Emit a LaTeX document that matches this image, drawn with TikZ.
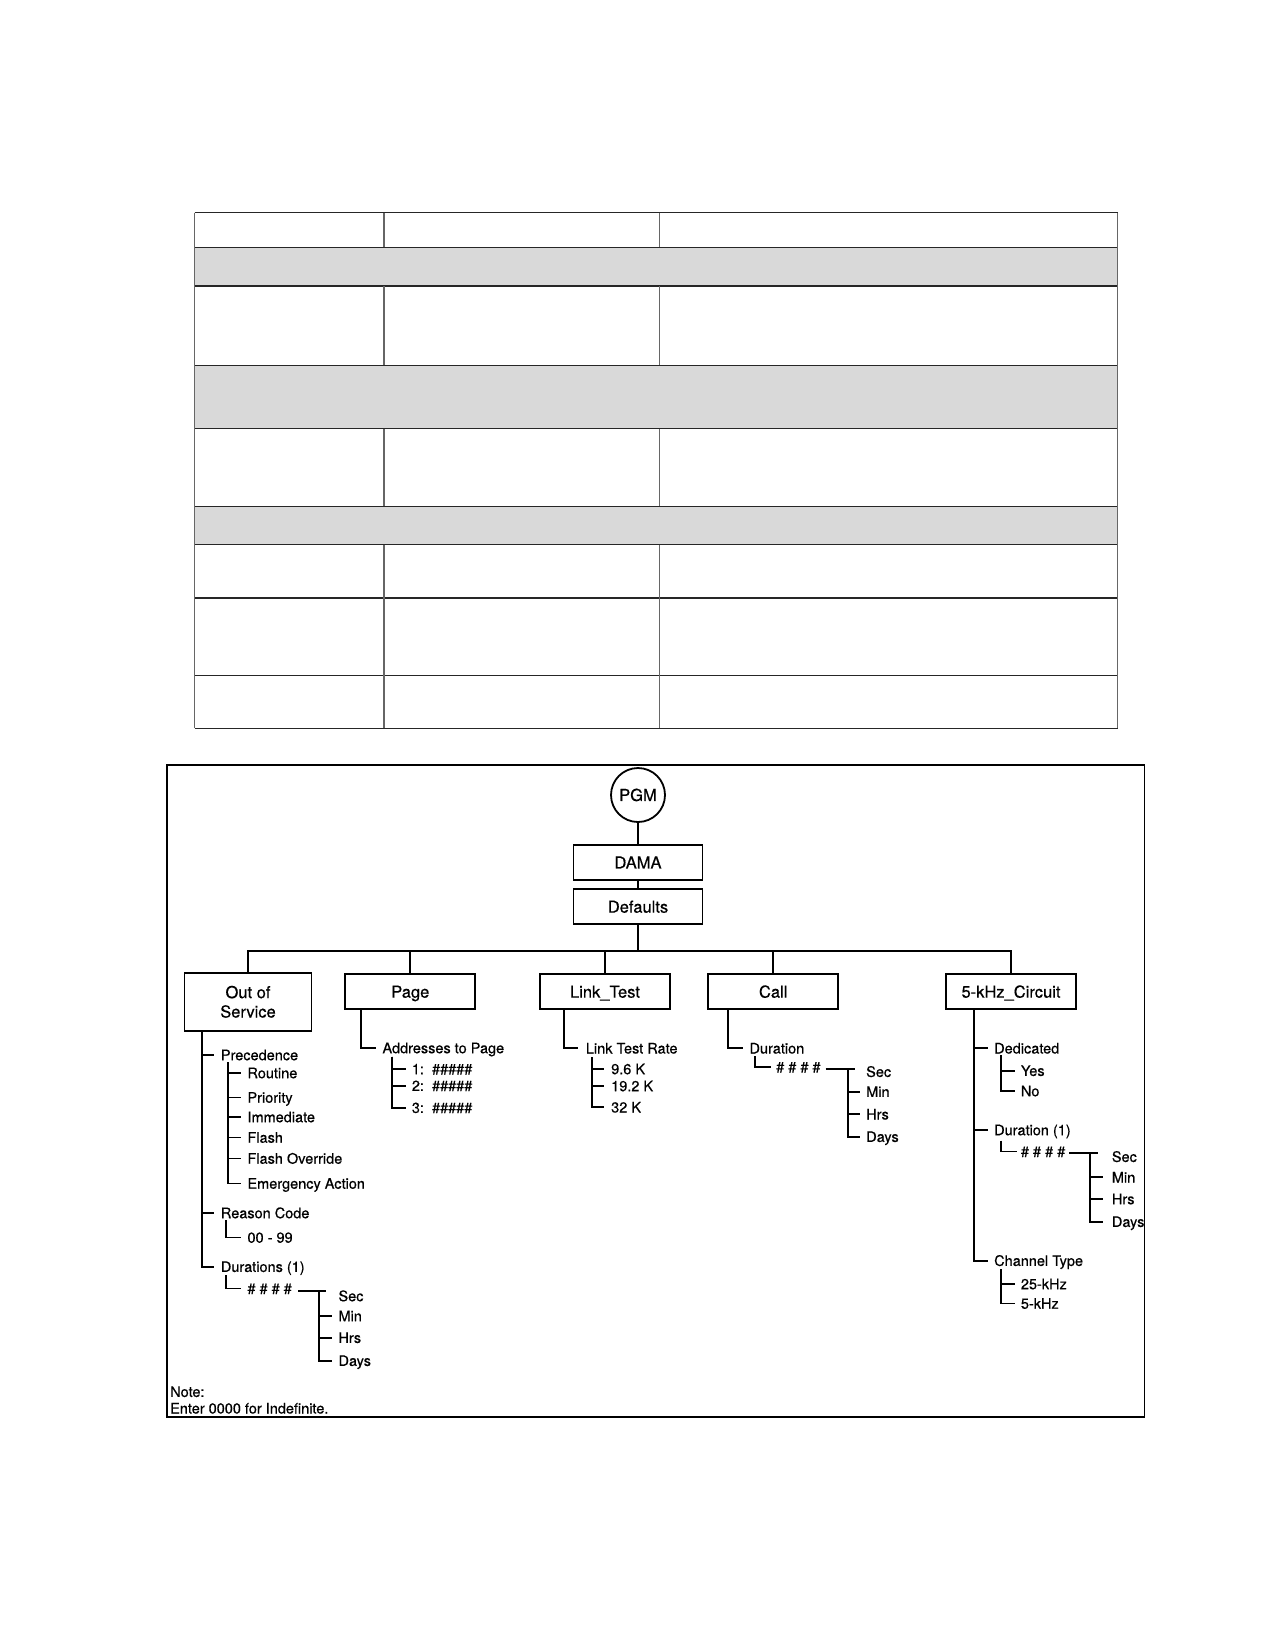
\documentclass[tikz,border=0pt]{standalone}
\usepackage{fontspec}
\setmainfont{TeX Gyre Heros}[FakeBold=0.5]
\definecolor{tgrey}{HTML}{D9D9D9}
\begin{document}
\begin{tikzpicture}[x=1pt,y=-1pt,
  ln/.style={line width=1.8pt},
  tline/.style={line width=1.3pt, black!85},
  vline/.style={line width=1.3pt, black!60},
  boxbase/.style={draw, line width=1.8pt, minimum width=129pt, minimum height=35pt, inner sep=0pt, font=\fontsize{16.5}{19.4}\selectfont},
  box/.style={boxbase, text height=11.9pt, text depth=0pt},
  lbl/.style={anchor=west, inner sep=0pt, text height=10.4pt, text depth=0pt, font=\fontsize{14.5}{17}\selectfont},
  tk/.style={xshift=-6.3pt}]
\useasboundingbox[fill=white] (0,0) rectangle (1275,1650);

% ---------------- table ----------------
\fill[tgrey] (194.7,247.3) rectangle (1117.5,286);
\fill[tgrey] (194.7,365.3) rectangle (1117.5,428.8);
\fill[tgrey] (194.7,506.2) rectangle (1117.5,544.5);
\foreach \yy in {212.7,247.3,286,365.3,428.8,506.2,544.5,598,675.5,728.3}
  \draw[tline] (194.7,\yy) -- (1117.5,\yy);
\draw[vline] (194.7,212.7) -- (194.7,728.3);
\draw[vline] (1117.5,212.7) -- (1117.5,728.3);
\foreach \xx in {384,659.8}{
  \draw[vline] (\xx,212.7) -- (\xx,247.3);
  \draw[vline] (\xx,286) -- (\xx,365.3);
  \draw[vline] (\xx,428.8) -- (\xx,506.2);
  \draw[vline] (\xx,544.5) -- (\xx,728.3);
}

% ---------------- diagram frame ----------------
\draw[ln] (167.3,765) rectangle (1144.5,1417);

% top nodes
\node[circle, draw, line width=1.8pt, minimum size=54pt, inner sep=0pt, text height=11.9pt, text depth=0pt, font=\fontsize{16.5}{19.4}\selectfont] (pgm) at (638,795) {PGM};
\node[box] (dama) at (638,862.5) {DAMA};
\node[box] (defaults) at (638,906.7) {Defaults};
\draw[ln] (pgm) -- (dama);
\draw[ln] (dama) -- (defaults);

\node[boxbase, align=center, minimum width=127pt, minimum height=57.7pt] (oos) at (248,1001.8) {Out of\\Service};
\node[box, minimum width=130pt] (page) at (410.3,991.7) {Page};
\node[box, minimum width=130pt] (link) at (605,991.7) {Link\_Test};
\node[box, minimum width=130pt] (call) at (773.2,991.7) {Call};
\node[box, minimum width=130pt] (kc) at (1011,991.7) {5-kHz\_Circuit};

\foreach \c in {oos,page,link,call,kc}
  \draw[ln] (defaults.south) -- ++(0,25.5) -| (\c.north);

% ---------------- Out of Service ----------------
\coordinate (s-oos) at (201.7,1030.7);
\node[lbl] (prec) at (220.7,1055) {Precedence};
\node[lbl] (reason) at (220.7,1213) {Reason Code};
\node[lbl] (durs) at (220.7,1266.7) {Durations (1)};
\foreach \c in {prec,reason,durs}
  \draw[ln] (s-oos) |- ([xshift=-7pt]\c.west);

\coordinate (s-prec) at (228.3,1062);
\node[lbl] (routine) at (247.3,1073) {Routine};
\node[lbl] (priority) at (247.3,1097.5) {Priority};
\node[lbl] (immed) at (247.3,1117) {Immediate};
\node[lbl] (flash) at (247.3,1137.5) {Flash};
\node[lbl] (flashov) at (247.3,1158.5) {Flash Override};
\node[lbl] (emerg) at (247.3,1183.5) {Emergency Action};
\foreach \c in {routine,priority,immed,flash,flashov,emerg}
  \draw[ln] (s-prec) |- ([tk]\c.west);

\coordinate (s-reason) at (226,1220);
\node[lbl] (r99) at (247.3,1237.5) {00 - 99};
\draw[ln] (s-reason) |- ([tk]r99.west);

\coordinate (s-durs) at (226,1275);
\node[lbl] (hashA) at (247.3,1288.5) {\# \# \# \#};
\draw[ln] (s-durs) |- ([tk]hashA.west);
\coordinate (tA) at (325.7,1291);
\coordinate (hA) at ([xshift=6pt]hashA.east);
\draw[ln] (hA |- tA) -- (tA);
\coordinate (vA) at (319.3,1291);
\node[lbl] (secA) at (338.3,1296) {Sec};
\node[lbl] (minA) at (338.3,1316) {Min};
\node[lbl] (hrsA) at (338.3,1337.7) {Hrs};
\node[lbl] (daysA) at (338.3,1360.7) {Days};
\foreach \c in {minA,hrsA,daysA}
  \draw[ln] (vA) |- ([tk]\c.west);

% ---------------- Page ----------------
\coordinate (s-page) at (361,1009.3);
\node[lbl] (addr) at (382.3,1048) {Addresses to Page};
\draw[ln] (s-page) |- ([tk]addr.west);
\coordinate (s-addr) at (391.7,1056.7);
\node[lbl] (p1) at (411.7,1069) {1:\ \ \#\#\#\#\#};
\node[lbl] (p2) at (411.7,1085.7) {2:\ \ \#\#\#\#\#};
\node[lbl] (p3) at (411.7,1107.7) {3:\ \ \#\#\#\#\#};
\foreach \c in {p1,p2,p3}
  \draw[ln] (s-addr) |- ([xshift=-5.7pt]\c.west);

% ---------------- Link_Test ----------------
\coordinate (s-link) at (564.3,1009.3);
\node[lbl] (rate) at (585.7,1048.3) {Link Test Rate};
\draw[ln] (s-link) |- ([xshift=-7.4pt]rate.west);
\coordinate (s-rate) at (592.3,1057);
\node[lbl] (r1) at (611,1069) {9.6 K};
\node[lbl] (r2) at (611,1086) {19.2 K};
\node[lbl] (r3) at (611,1107.3) {32 K};
\foreach \c in {r1,r2,r3}
  \draw[ln] (s-rate) |- ([xshift=-7pt]\c.west);

% ---------------- Call ----------------
\coordinate (s-call) at (728.3,1009.3);
\node[lbl] (cdur) at (749.3,1048.3) {Duration};
\draw[ln] (s-call) |- ([tk]cdur.west);
\coordinate (s-cdur) at (755,1056);
\node[lbl] (hashC) at (776,1067) {\# \# \# \#};
\draw[ln] (s-cdur) |- ([xshift=-5.3pt]hashC.west);
\coordinate (tC) at (855,1069.3);
\coordinate (hC) at ([xshift=5pt]hashC.east);
\draw[ln] (hC |- tC) -- (tC);
\coordinate (vC) at (847.7,1069.3);
\node[lbl] (secC) at (866,1071.7) {Sec};
\node[lbl] (minC) at (866,1091.7) {Min};
\node[lbl] (hrsC) at (866,1114.3) {Hrs};
\node[lbl] (daysC) at (866,1136.7) {Days};
\foreach \c in {minC,hrsC,daysC}
  \draw[ln] (vC) |- ([tk]\c.west);

% ---------------- 5-kHz_Circuit ----------------
\coordinate (s-kc) at (974,1009.3);
\node[lbl] (ded) at (994,1048.3) {Dedicated};
\node[lbl] (kdur) at (994,1130) {Duration (1)};
\node[lbl] (chan) at (994,1260.7) {Channel Type};
\foreach \c in {ded,kdur,chan}
  \draw[ln] (s-kc) |- ([xshift=-5.7pt]\c.west);

\coordinate (s-ded) at (1001,1055);
\node[lbl] (yes) at (1020.7,1070.7) {Yes};
\node[lbl] (no) at (1020.7,1091) {No};
\foreach \c in {yes,no}
  \draw[ln] (s-ded) |- ([xshift=-5.7pt]\c.west);

\coordinate (s-kdur) at (1001,1140.7);
\node[lbl] (hashK) at (1020.7,1151.5) {\# \# \# \#};
\draw[ln] (s-kdur) |- ([xshift=-4pt]hashK.west);
\coordinate (tK) at (1097.7,1152.7);
\coordinate (hK) at ([xshift=4pt]hashK.east);
\draw[ln] (hK |- tK) -- (tK);
\coordinate (vK) at (1090,1152.7);
\node[lbl] (secK) at (1111.7,1156.7) {Sec};
\node[lbl] (minK) at (1111.7,1177.3) {Min};
\node[lbl] (hrsK) at (1111.7,1199) {Hrs};
\node[lbl] (daysK) at (1111.7,1221.7) {Days};
\foreach \c in {minK,hrsK,daysK}
  \draw[ln] (vK) |- ([xshift=-8.4pt]\c.west);

\coordinate (s-chan) at (1001,1269.3);
\node[lbl] (k25) at (1020.7,1284) {25-kHz};
\node[lbl] (k5) at (1020.7,1303.5) {5-kHz};
\foreach \c in {k25,k5}
  \draw[ln] (s-chan) |- ([xshift=-5.7pt]\c.west);

% ---------------- note ----------------
\node[lbl] (note1) at (170,1391.7) {Note:};
\node[lbl] (note2) at (170,1408.3) {Enter 0000 for Indefinite.};
\end{tikzpicture}
\end{document}
